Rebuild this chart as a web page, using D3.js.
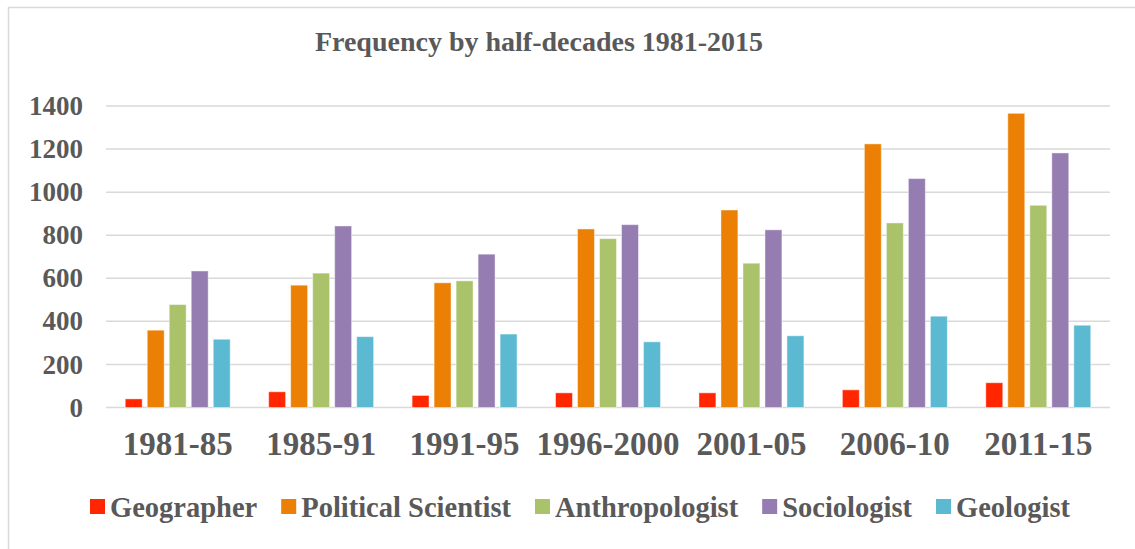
<!DOCTYPE html>
<html>
<head>
<meta charset="utf-8">
<script src="https://cdn.jsdelivr.net/npm/d3@7"></script>
<style>
  body { margin: 0; background: #fff; }
  text { font-family: "Liberation Serif", "DejaVu Serif", serif; font-weight: bold; fill: #595959; }
</style>
</head>
<body>
<svg id="chart"></svg>
<script>
const periods = ["1981-85", "1985-91", "1991-95", "1996-2000", "2001-05", "2006-10", "2011-15"];
const series = ["Geographer", "Political Scientist", "Anthropologist", "Sociologist", "Geologist"];
const colors = ["#FF2600", "#EB8004", "#AAC36B", "#957CB1", "#5CB9D2"];

const geographer = [40, 73, 56, 68, 68, 82, 115];
const politicalScientist = [359, 568, 579, 829, 917, 1224, 1366];
const anthropologist = [478, 624, 588, 784, 670, 857, 939];
const sociologist = [634, 843, 712, 849, 825, 1063, 1182];
const geologist = [317, 329, 341, 305, 333, 424, 382];
const yTicks = [0, 200, 400, 600, 800, 1000, 1200, 1400];

const values = [geographer, politicalScientist, anthropologist, sociologist, geologist];
const rows = periods.map((p, i) => ({ period: p, vals: series.map((s, j) => ({ key: s, value: values[j][i] })) }));

const width = 1135, height = 549;
const margin = { top: 106, right: 25, bottom: 141.5, left: 106 };
const innerW = width - margin.left - margin.right;
const innerH = height - margin.top - margin.bottom;

const svg = d3.select("#chart").attr("width", width).attr("height", height);

// chart frame (only top/left visible in the reference)
svg.append("path")
    .attr("d", `M8.5,${height} V7.5 H${width}`)
    .attr("fill", "none")
    .attr("stroke", "#D9D9D9")
    .attr("stroke-width", 1.5);

const g = svg.append("g").attr("transform", `translate(${margin.left},${margin.top})`);

const x0 = d3.scaleBand().domain(periods).range([0, innerW]).paddingInner(0.233).paddingOuter(0.1165);
const x1 = d3.scaleBand().domain(series).range([0, x0.bandwidth()]).paddingInner(0.23).paddingOuter(0.115);
const y = d3.scaleLinear().domain([0, 1400]).range([innerH, 0]);
const color = d3.scaleOrdinal().domain(series).range(colors);

// gridlines
g.append("g")
    .selectAll("line")
    .data(yTicks)
    .join("line")
    .attr("x1", 0).attr("x2", innerW)
    .attr("y1", d => y(d)).attr("y2", d => y(d))
    .attr("stroke", "#D9D9D9")
    .attr("stroke-width", 1.5);

// y axis labels
const yAxis = g.append("g")
    .call(d3.axisLeft(y).tickValues(yTicks).tickSize(0).tickPadding(23).tickFormat(d3.format("d")));
yAxis.select(".domain").remove();
yAxis.selectAll("text").style("font-size", "27px").attr("fill", "#595959");

// bars
g.append("g")
    .selectAll("g")
    .data(rows)
    .join("g")
    .attr("transform", d => `translate(${x0(d.period)},0)`)
    .selectAll("rect")
    .data(d => d.vals)
    .join("rect")
    .attr("x", d => x1(d.key))
    .attr("y", d => y(d.value))
    .attr("width", x1.bandwidth())
    .attr("height", d => innerH - y(d.value))
    .attr("fill", d => color(d.key))
    .attr("stroke", "#fff")
    .attr("stroke-opacity", 0.45)
    .attr("stroke-width", 1);

// x axis labels
const xAxis = g.append("g")
    .attr("transform", `translate(0,${innerH})`)
    .call(d3.axisBottom(x0).tickSize(0).tickPadding(24));
xAxis.select(".domain").remove();
xAxis.selectAll("text").style("font-size", "33px").attr("fill", "#595959");

// title
svg.append("text")
    .attr("x", 539)
    .attr("y", 51)
    .attr("text-anchor", "middle")
    .style("font-size", "28px")
    .text("Frequency by half-decades 1981-2015");

// legend
const legend = svg.append("g").attr("transform", "translate(90,499)");
let lx = 0;
series.forEach((s, i) => {
    const item = legend.append("g").attr("transform", `translate(${lx},0)`);
    item.append("rect").attr("width", 15).attr("height", 15).attr("fill", colors[i]);
    const t = item.append("text")
        .attr("x", 20)
        .attr("y", 18)
        .style("font-size", "28.5px")
        .text(s);
    lx += 20 + t.node().getComputedTextLength() + 24;
});
</script>
</body>
</html>
